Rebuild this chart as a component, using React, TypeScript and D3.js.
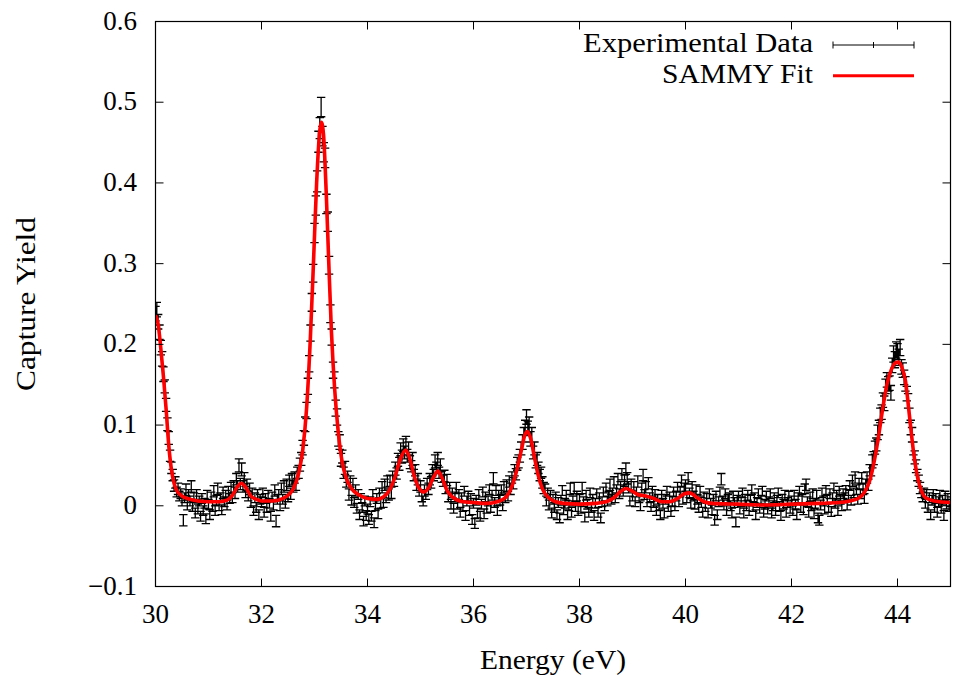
import React from 'react';
import * as d3 from 'd3';

// ---- data (capture yield in units of 1e-3, uniform energy grid) ----
const energyStart = 30;
const energyStep = 0.025;

const yieldMilli = [
  238,243,228,215,196,182,163,148,125,101,84,62,47,38,25,29,17,21,12,15,6,-18,10,20,1,14,6,24,-1,10,-9,14,-4,6,-13,9,-6,3,-16,13,
  2,-11,11,-1,18,-6,7,21,0,10,-5,16,5,13,1,17,9,22,10,24,16,33,24,50,27,45,24,34,17,26,12,21,4,16,-6,10,-2,14,-11,8,
  5,16,-8,9,-2,13,3,-13,11,1,19,-19,8,14,0,21,8,24,3,26,11,31,15,33,24,35,26,41,42,51,58,72,84,101,118,148,176,214,252,288,
  338,372,402,451,468,494,458,438,431,374,352,298,238,209,168,156,121,110,83,79,57,61,41,47,30,36,14,30,7,27,4,19,-3,14,-11,9,-2,-19,6,-12,
  -4,-17,5,-13,14,-21,0,9,-10,16,3,23,4,26,10,30,14,31,16,36,31,46,40,57,52,70,61,75,66,78,62,71,54,49,58,38,44,26,33,19,
  24,11,6,19,14,27,21,33,29,44,38,55,47,58,41,50,36,31,37,22,32,11,22,2,16,-3,11,22,2,14,-8,10,-1,18,-12,6,12,-6,9,-17,
  3,-22,7,-9,14,-13,2,17,-10,11,-3,6,20,-2,13,34,4,19,-6,13,7,20,0,23,10,25,12,30,21,35,28,44,39,52,55,62,71,79,88,97,
  110,96,101,83,88,66,71,55,58,47,38,41,29,22,21,6,16,1,13,-9,8,-2,11,-11,4,-15,7,19,-5,3,13,-11,0,21,-8,6,22,-1,12,-6,
  8,-3,22,5,-14,13,2,-8,16,-2,8,-12,3,15,-8,10,-15,5,17,0,22,6,12,26,8,16,29,10,20,33,15,23,39,19,31,46,34,23,6,26,
  12,23,5,17,30,10,0,22,38,14,23,5,28,10,-1,18,4,14,-6,8,0,-11,13,3,-9,8,18,-1,11,-7,6,17,0,12,23,5,17,31,8,21,
  25,10,34,16,3,23,12,2,20,8,-2,18,4,-8,11,-1,9,-9,15,3,-5,8,-18,12,-11,5,17,33,6,1,15,-6,8,10,0,-9,12,4,-20,7,
  12,-4,5,16,-9,8,0,13,-6,7,20,-1,10,-11,4,15,-3,7,18,-8,2,12,-4,5,15,-9,0,10,-6,7,16,-1,-12,8,2,13,-8,4,12,-3,
  6,-6,13,2,-11,10,18,-2,8,-5,21,26,5,-8,11,0,15,-10,3,13,-15,-18,1,16,6,-4,19,8,-2,15,-7,10,22,3,13,-6,18,8,0,15,
  10,19,1,14,25,7,31,16,35,20,8,27,15,34,21,9,26,35,26,44,44,55,59,72,76,91,97,112,116,131,127,148,156,151,152,140,174,188,181,193,
  191,184,196,172,168,159,151,139,130,112,97,88,71,60,49,38,31,22,16,11,16,3,14,-2,10,-11,7,14,-2,9,-8,5,13,-3,7,-12,12,2,9,-1,
  5,
];

const errMilli = [
  9,9,9,9,9,9,9,8,8,8,8,7,7,7,7,7,6,7,6,6,6,7,6,7,6,6,6,7,6,6,6,6,6,6,6,6,6,6,6,6,
  6,6,6,6,7,6,6,7,6,6,6,7,6,6,6,7,6,7,6,7,7,7,7,8,7,8,7,7,7,7,6,7,6,6,6,6,6,6,6,6,
  6,6,6,6,6,6,6,6,6,6,7,7,6,6,6,7,6,7,6,7,6,7,7,7,7,7,7,7,8,8,8,9,9,9,10,10,10,10,11,11,
  12,12,13,13,13,12,12,12,12,12,12,11,11,10,10,10,10,10,9,9,8,8,7,8,7,7,7,7,6,7,6,7,6,6,6,6,6,6,6,6,
  6,6,6,6,6,6,6,6,6,6,6,7,6,7,6,7,7,7,7,7,7,8,7,8,8,8,8,8,8,8,8,8,8,7,8,7,7,7,7,7,
  7,6,6,7,6,7,7,7,7,7,7,8,7,8,7,8,7,7,7,7,7,6,7,6,6,6,6,7,6,6,6,6,6,6,6,6,6,6,6,6,
  6,6,6,6,6,6,6,6,6,6,6,6,6,6,6,7,6,6,6,6,6,6,6,7,6,7,6,7,7,7,7,7,7,8,8,8,8,9,9,9,
  9,9,9,9,9,8,8,8,8,7,7,7,7,7,6,6,6,6,6,6,6,6,6,6,6,6,6,6,6,6,6,6,6,7,6,6,7,6,6,6,
  6,6,7,6,6,6,6,6,6,6,6,6,6,6,6,6,6,6,6,6,6,6,6,7,6,6,7,6,6,7,6,7,7,7,7,7,7,7,6,7,
  6,7,6,6,7,6,6,6,7,6,7,6,7,6,6,6,6,6,6,6,6,6,6,6,6,6,6,6,6,6,6,6,6,6,6,6,6,7,6,7,
  7,6,7,6,6,7,6,6,6,6,6,6,6,6,6,6,6,6,6,6,6,6,6,6,6,6,6,7,6,6,6,6,6,6,6,6,6,6,6,6,
  6,6,6,6,6,6,6,6,6,6,6,6,6,6,6,6,6,6,6,6,6,6,6,6,6,6,6,6,6,6,6,6,6,6,6,6,6,6,6,6,
  6,6,6,6,6,6,6,6,6,6,6,7,6,6,6,6,6,6,6,6,6,6,6,6,6,6,6,6,6,6,6,6,6,6,6,6,6,6,6,6,
  6,6,6,6,6,6,7,6,7,6,6,7,6,7,7,6,7,7,7,7,7,8,8,8,8,9,9,9,9,9,9,9,9,9,9,9,9,10,10,10,
  10,10,10,9,9,9,9,9,9,9,9,9,8,8,8,7,7,7,6,6,6,6,6,6,6,6,6,6,6,6,6,6,6,6,6,6,6,6,6,6,
  6,
];

// SAMMY fit curve
const fitEnergy = [
  30.00,30.05,30.10,30.15,30.20,30.25,30.30,30.35,30.40,30.50,30.60,30.80,31.00,31.20,31.35,31.45,31.55,31.62,31.70,31.80,
  31.90,32.00,32.20,32.40,32.50,32.60,32.70,32.78,32.85,32.92,32.98,33.04,33.10,33.13,33.17,33.22,33.27,33.32,33.38,33.45,
  33.52,33.60,33.70,33.85,34.00,34.17,34.30,34.42,34.52,34.62,34.72,34.80,34.88,34.97,35.06,35.15,35.25,35.33,35.41,35.50,
  35.60,35.80,36.00,36.25,36.45,36.60,36.70,36.80,36.90,36.97,37.02,37.08,37.15,37.22,37.30,37.40,37.55,37.70,38.00,38.30,
  38.50,38.65,38.78,38.88,38.97,39.10,39.25,39.40,39.55,39.70,39.85,39.98,40.08,40.20,40.35,40.50,41.00,41.50,42.00,42.50,
  42.90,43.10,43.25,43.38,43.48,43.56,43.64,43.72,43.80,43.88,43.96,44.02,44.08,44.15,44.22,44.30,44.38,44.46,44.55,44.70,
  45.00,
];
const fitYield = [
  0.236,0.225,0.195,0.160,0.120,0.075,0.045,0.028,0.019,0.012,0.009,0.006,0.005,0.005,0.007,0.013,0.024,0.028,0.023,0.012,
  0.008,0.006,0.006,0.009,0.013,0.021,0.040,0.070,0.120,0.205,0.300,0.400,0.465,0.475,0.460,0.390,0.300,0.215,0.145,0.090,
  0.055,0.034,0.021,0.013,0.009,0.008,0.011,0.020,0.036,0.058,0.069,0.058,0.037,0.022,0.017,0.022,0.036,0.043,0.034,0.019,
  0.011,0.005,0.004,0.003,0.005,0.010,0.020,0.040,0.068,0.088,0.092,0.083,0.060,0.038,0.021,0.011,0.005,0.003,0.002,0.003,
  0.005,0.010,0.018,0.0215,0.019,0.014,0.012,0.009,0.005,0.005,0.009,0.015,0.016,0.011,0.005,0.003,0.002,0.001,0.002,0.003,
  0.004,0.006,0.009,0.017,0.032,0.055,0.085,0.120,0.150,0.168,0.177,0.178,0.172,0.155,0.115,0.068,0.035,0.017,0.009,0.006,
  0.004,
];

const xTicks = [30, 32, 34, 36, 38, 40, 42, 44];
const yTicks = [-0.1, 0, 0.1, 0.2, 0.3, 0.4, 0.5, 0.6];
const yTickLabels = ['\u22120.1', '0', '0.1', '0.2', '0.3', '0.4', '0.5', '0.6'];
const legendLabels = ['Experimental Data', 'SAMMY Fit'];

const textStyle: React.CSSProperties = {
  fontFamily: '"Liberation Serif", "DejaVu Serif", "Times New Roman", Times, serif',
  fontSize: '27px',
};

export default function App() {
  const L = 155.5, R = 950.5, T = 21.5, B = 586.5;
  const x = d3.scaleLinear().domain([30, 45]).range([L, R]);
  const y = d3.scaleLinear().domain([-0.1, 0.6]).range([B, T]);

  const points = yieldMilli.map((v, i) => ({
    e: energyStart + i * energyStep,
    v: v / 1000,
    err: (errMilli[i] ?? 6) / 1000,
  }));

  const cap = 4.2;
  let errPath = '';
  for (const p of points) {
    const px = x(p.e);
    const y1 = y(p.v - p.err);
    const y2 = y(p.v + p.err);
    errPath += `M${px},${y1}V${y2}M${px - cap},${y1}H${px + cap}M${px - cap},${y2}H${px + cap}`;
  }

  const fitLine = d3
    .line<number>()
    .x((_, i) => x(fitEnergy[i]))
    .y((d) => y(d))
    .curve(d3.curveMonotoneX)(fitYield) as string;

  const tickLen = 8;

  return (
    <svg
      width={953}
      height={676}
      viewBox="0 0 953 676"
      style={{ position: 'absolute', left: 0, top: 0, background: '#fff' }}
    >
      <defs>
        <clipPath id="plotClip">
          <rect x={L} y={T} width={R - L} height={B - T} />
        </clipPath>
      </defs>
      <rect x={0} y={0} width={953} height={676} fill="#fff" />

      {/* data */}
      <g clipPath="url(#plotClip)">
        <path d={errPath} stroke="#000" strokeWidth={1.3} fill="none" />
        <path d={fitLine} stroke="#ff0000" strokeWidth={3.6} fill="none" strokeLinejoin="round" />
      </g>

      {/* ticks */}
      <g stroke="#000" strokeWidth={1}>
        {xTicks.map((t) => (
          <g key={'xt' + t}>
            <line x1={x(t)} x2={x(t)} y1={B} y2={B - tickLen} />
            <line x1={x(t)} x2={x(t)} y1={T} y2={T + tickLen} />
          </g>
        ))}
        {yTicks.map((t) => (
          <g key={'yt' + t}>
            <line x1={L} x2={L + tickLen} y1={y(t)} y2={y(t)} />
            <line x1={R} x2={R - tickLen} y1={y(t)} y2={y(t)} />
          </g>
        ))}
      </g>

      {/* frame */}
      <rect x={L} y={T} width={R - L} height={B - T} fill="none" stroke="#000" strokeWidth={1.2} />

      {/* tick labels and titles */}
      <g style={textStyle} fill="#000">
        {yTicks.map((t, i) => (
          <text key={'yl' + t} x={137} y={y(t) + 8} textAnchor="end" style={textStyle}>
            {yTickLabels[i]}
          </text>
        ))}
        {xTicks.map((t) => (
          <text key={'xl' + t} x={x(t)} y={623} textAnchor="middle" style={textStyle}>
            {String(t)}
          </text>
        ))}
        <text x={(L + R) / 2} y={669} textAnchor="middle" textLength={146} lengthAdjust="spacingAndGlyphs" style={textStyle}>
          Energy (eV)
        </text>
        <text
          transform={`translate(35,${(T + B) / 2}) rotate(-90)`}
          textAnchor="middle"
          textLength={174}
          lengthAdjust="spacingAndGlyphs"
          style={textStyle}
        >
          Capture Yield
        </text>
      </g>

      {/* legend */}
      <g fill="#000">
        <text x={813} y={52} textAnchor="end" textLength={230} lengthAdjust="spacingAndGlyphs" style={textStyle}>
          {legendLabels[0]}
        </text>
        <text x={813} y={83} textAnchor="end" textLength={151} lengthAdjust="spacingAndGlyphs" style={textStyle}>
          {legendLabels[1]}
        </text>
      </g>
      <g stroke="#000" strokeWidth={1}>
        <line x1={833} x2={914} y1={45} y2={45} />
        <line x1={833} x2={833} y1={41.5} y2={48.5} />
        <line x1={914} x2={914} y1={41.5} y2={48.5} />
        <line x1={873.5} x2={873.5} y1={42} y2={48} />
      </g>
      <line x1={833} x2={914} y1={75.7} y2={75.7} stroke="#ff0000" strokeWidth={3} />
    </svg>
  );
}
